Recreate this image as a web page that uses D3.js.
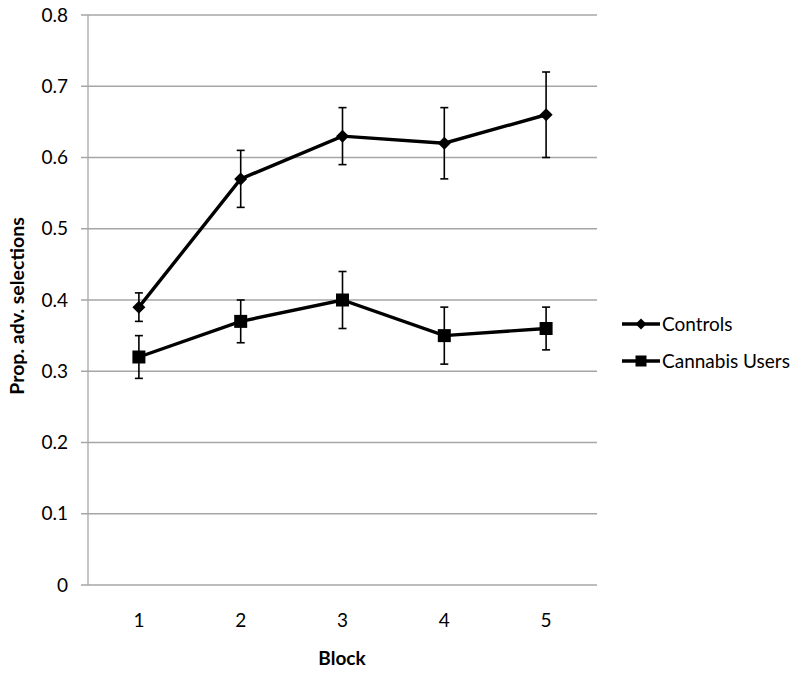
<!DOCTYPE html>
<html><head><meta charset="utf-8">
<script src="https://cdn.jsdelivr.net/npm/d3@7"></script>
<style>body{margin:0;background:#fff;}svg{display:block;font-family:Lato,"Open Sans",sans-serif;}</style>
</head><body>
<svg id="c" width="800" height="673"></svg>
<script>
const blocks = [1, 2, 3, 4, 5];
const controls = [0.39, 0.57, 0.63, 0.62, 0.66];
const controlsErr = [0.02, 0.04, 0.04, 0.05, 0.06];
const cannabis = [0.32, 0.37, 0.40, 0.35, 0.36];
const cannabisErr = [0.03, 0.03, 0.04, 0.04, 0.03];
const yTicks = [0, 0.1, 0.2, 0.3, 0.4, 0.5, 0.6, 0.7, 0.8];
const seriesNames = ["Controls", "Cannabis Users"];

const svg = d3.select("#c");
const L = 88, R = 597, T = 15, B = 585;
const x = d3.scaleBand().domain(blocks).range([L, R]);
const y = d3.scaleLinear().domain([0, 0.8]).range([B, T]);
const FS = 19;

svg.append("g").selectAll("line").data(yTicks).join("line")
  .attr("x1", L - 7).attr("x2", R).attr("y1", d => y(d)).attr("y2", d => y(d))
  .attr("stroke", "#a6a6a6").attr("stroke-width", 1.3);
svg.append("line").attr("x1", L).attr("x2", L).attr("y1", T).attr("y2", B)
  .attr("stroke", "#a6a6a6").attr("stroke-width", 1.3);

svg.append("g").selectAll("text").data(yTicks).join("text")
  .attr("x", 68).attr("y", d => y(d)).attr("dy", "0.35em").attr("text-anchor", "end")
  .attr("font-size", FS).attr("fill", "#000").text(d => d === 0 ? "0" : d.toFixed(1));
svg.append("g").selectAll("text").data(blocks).join("text")
  .attr("x", d => x(d) + x.bandwidth() / 2).attr("y", 620).attr("dy", "0.35em")
  .attr("text-anchor", "middle").attr("font-size", FS).attr("fill", "#000").text(d => d);

svg.append("text").attr("x", 342).attr("y", 658).attr("dy", "0.35em").attr("text-anchor", "middle")
  .attr("font-size", FS).attr("font-weight", "bold").text("Block");
svg.append("text").attr("transform", "translate(17,306) rotate(-90)").attr("dy", "0.35em")
  .attr("text-anchor", "middle").attr("font-size", FS + 0.5).attr("font-weight", "bold").text("Prop. adv. selections");

const cx = d => x(d) + x.bandwidth() / 2;
const line = d3.line().x(d => cx(d[0])).y(d => y(d[1]));
const diamond = r => `M0,${-r}L${r},0L0,${r}L${-r},0Z`;
const square = r => `M${-r},${-r}H${r}V${r}H${-r}Z`;

function series(vals, errs, shape) {
  const g = svg.append("g");
  const data = blocks.map((b, i) => [b, vals[i], errs[i]]);
  g.selectAll(".eb").data(data).join("g").each(function(d) {
    const e = d3.select(this);
    const xx = cx(d[0]), y1 = y(d[1] + d[2]), y2 = y(d[1] - d[2]);
    e.append("line").attr("x1", xx).attr("x2", xx).attr("y1", y1).attr("y2", y2).attr("stroke", "#000").attr("stroke-width", 1.6);
    e.append("line").attr("x1", xx - 4).attr("x2", xx + 4).attr("y1", y1).attr("y2", y1).attr("stroke", "#000").attr("stroke-width", 1.6);
    e.append("line").attr("x1", xx - 4).attr("x2", xx + 4).attr("y1", y2).attr("y2", y2).attr("stroke", "#000").attr("stroke-width", 1.6);
  });
  g.append("path").datum(data).attr("d", line).attr("fill", "none").attr("stroke", "#000").attr("stroke-width", 3.4);
  g.selectAll(".m").data(data).join("path")
    .attr("transform", d => `translate(${cx(d[0])},${y(d[1])})`)
    .attr("d", shape).attr("fill", "#000");
}
series(controls, controlsErr, diamond(6.5));
series(cannabis, cannabisErr, square(6.5));

const leg = [[seriesNames[0], diamond(5.5), 324], [seriesNames[1], square(5.5), 361]];
leg.forEach(([name, shp, ly]) => {
  svg.append("line").attr("x1", 622).attr("x2", 660).attr("y1", ly).attr("y2", ly).attr("stroke", "#000").attr("stroke-width", 3.4);
  svg.append("path").attr("transform", `translate(641,${ly})`).attr("d", shp).attr("fill", "#000");
  svg.append("text").attr("x", 662).attr("y", ly).attr("dy", "0.35em").attr("font-size", FS).text(name);
});
</script>
</body></html>
